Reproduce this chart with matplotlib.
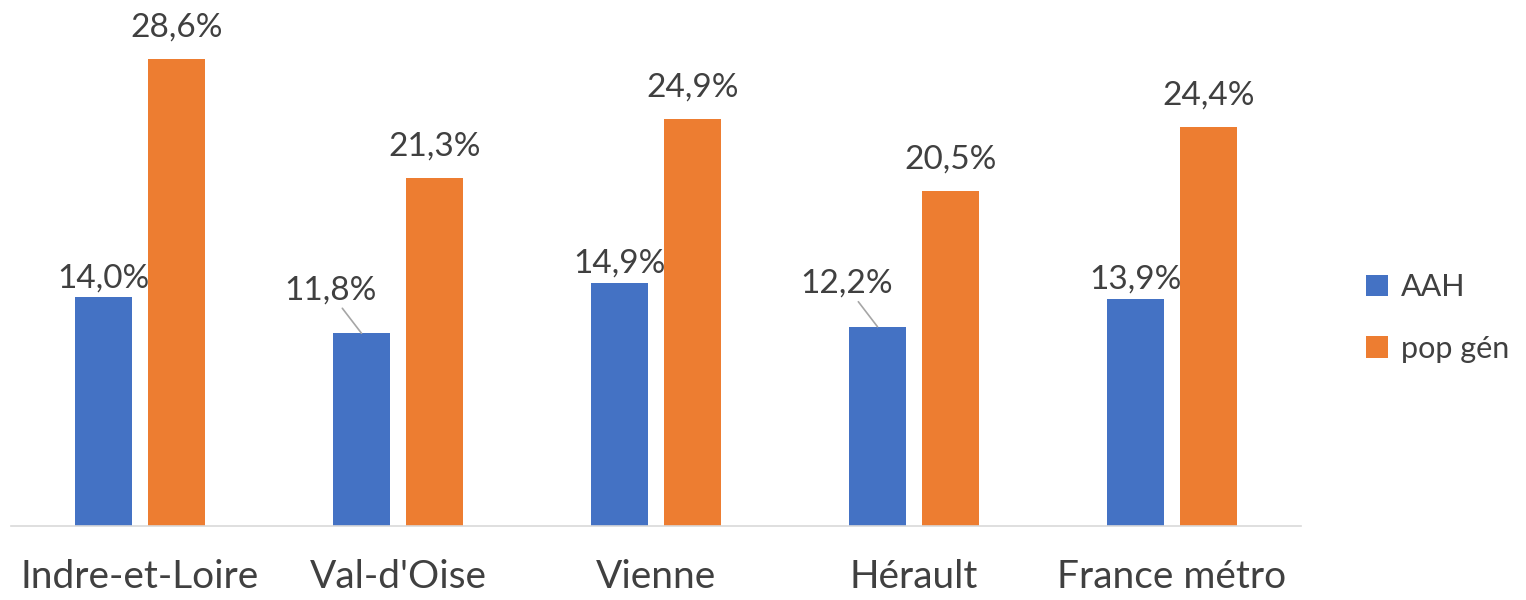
import matplotlib
matplotlib.use("Agg")
import matplotlib.pyplot as plt
import numpy as np

categories = ["Indre-et-Loire", "Val-d'Oise", "Vienne", "Hérault", "France métro"]
aah = [14.0, 11.8, 14.9, 12.2, 13.9]
pop_gen = [28.6, 21.3, 24.9, 20.5, 24.4]
series_names = ["AAH", "pop gén"]

plt.rcParams['font.family'] = ['Lato', 'DejaVu Sans']

fig = plt.figure(figsize=(15.26, 6.0), dpi=100)
ax = fig.add_axes([11/1526, 74/600, 1290/1526, 490/600])

x = np.arange(len(categories))
w = 0.222
off = 0.1415
blue = "#4472C4"
orange = "#ED7D31"
b1 = ax.bar(x - off, aah, w, color=blue, label=series_names[0])
b2 = ax.bar(x + off, pop_gen, w, color=orange, label=series_names[1])

ax.set_xlim(-0.5, len(categories) - 0.5)
ax.set_ylim(0, 30)

def fmt(v):
    return f"{v:.1f}%".replace(".", ",")

fs = 24
for i, v in enumerate(pop_gen):
    ax.annotate(fmt(v), (x[i] + off, v), xytext=(0, 12), textcoords="offset points",
                ha="center", va="bottom", fontsize=fs, color="#404040")
for i, v in enumerate(aah):
    if i in (1, 3):
        ax.annotate(fmt(v), (x[i] - off, v), xytext=(-22, 20), textcoords="offset points",
                    ha="center", va="bottom", fontsize=fs, color="#404040",
                    arrowprops=dict(arrowstyle="-", color="#A6A6A6", lw=1.2,
                                    shrinkA=0, shrinkB=0, relpos=(0.6, 0.0)))
    else:
        ax.annotate(fmt(v), (x[i] - off, v), xytext=(0, 3), textcoords="offset points",
                    ha="center", va="bottom", fontsize=fs, color="#404040")

for s in ["top", "right", "left"]:
    ax.spines[s].set_visible(False)
ax.spines["bottom"].set_color("#D9D9D9")
ax.spines["bottom"].set_linewidth(1.2)
ax.set_yticks([])
ax.set_xticks(x)
ax.set_xticklabels(categories, fontsize=28, color="#404040")
ax.tick_params(axis="x", length=0, pad=24)

leg = fig.legend(handles=[b1, b2], labels=series_names, loc="center left",
                 bbox_to_anchor=(1360/1526, 0.47), frameon=False, fontsize=22,
                 handlelength=0.7, handleheight=0.7, labelspacing=1.1,
                 handletextpad=0.45, borderaxespad=0, borderpad=0.2,
                 labelcolor="#404040")

fig.savefig("out.png", dpi=100)
